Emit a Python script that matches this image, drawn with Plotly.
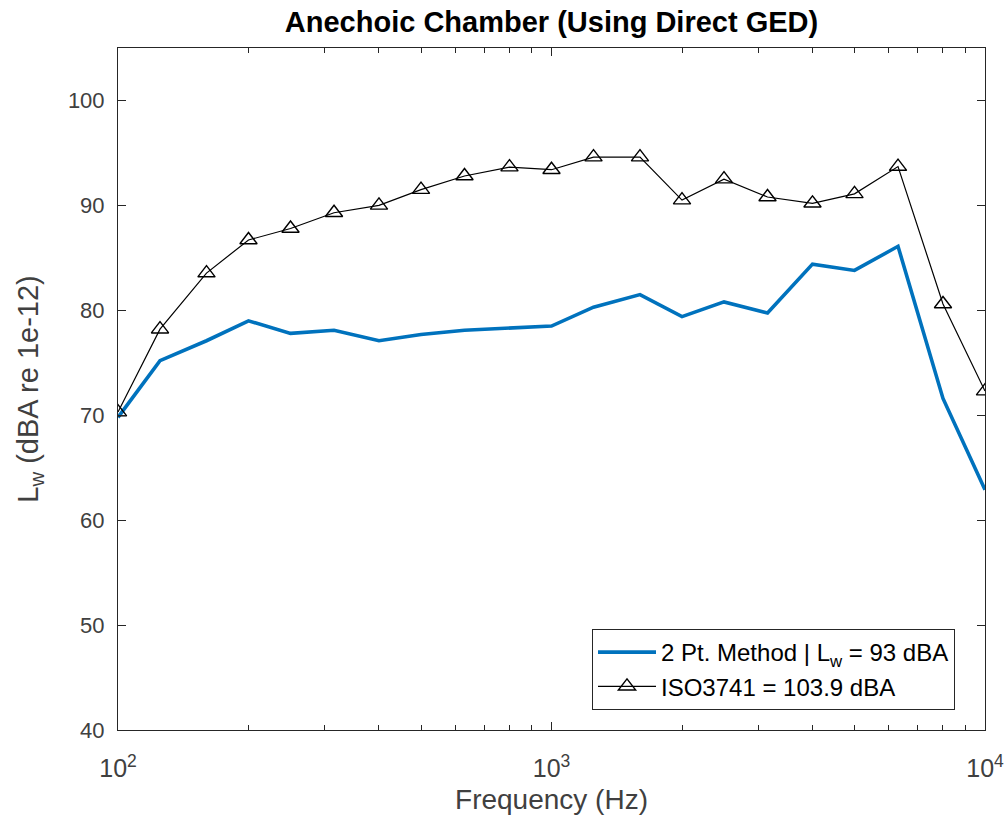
import plotly.graph_objects as go

# One-third octave band centre frequencies (Hz)
freq = [100, 125, 160, 200, 250, 315, 400, 500, 630, 800, 1000,
        1250, 1600, 2000, 2500, 3150, 4000, 5000, 6300, 8000, 10000]

# Sound power level per band, 2-point method (dBA)
lw_two_point = [69.8, 75.2, 77.1, 79.0, 77.8, 78.1, 77.1, 77.7, 78.1, 78.35, 78.5,
                80.3, 81.5, 79.4, 80.8, 79.75, 84.4, 83.8, 86.1, 71.6, 62.9]

# Sound power level per band, ISO 3741 (dBA)
lw_iso3741 = [70.3, 78.2, 83.55, 86.7, 87.8, 89.3, 90.0, 91.5, 92.8, 93.65, 93.4,
              94.6, 94.6, 90.5, 92.5, 90.8, 90.2, 91.1, 93.7, 80.6, 72.3]

y_ticks = [40, 50, 60, 70, 80, 90, 100]
x_ticks = [100, 1000, 10000]
x_tick_text = ["10<sup>2</sup>", "10<sup>3</sup>", "10<sup>4</sup>"]
x_minor = [200, 300, 400, 500, 600, 700, 800, 900,
           2000, 3000, 4000, 5000, 6000, 7000, 8000, 9000]

FONT = "Liberation Sans, Arial, Helvetica, sans-serif"
TICK_COLOR = "#404040"

fig = go.Figure()

fig.add_trace(go.Scatter(
    x=freq, y=lw_two_point, mode="lines",
    name="2 Pt. Method | L<sub>w</sub> = 93 dBA",
    line=dict(color="#0072BD", width=3.6),
))

fig.add_trace(go.Scatter(
    x=freq, y=lw_iso3741, mode="lines+markers",
    name="ISO3741 = 103.9 dBA",
    line=dict(color="black", width=1.2),
    marker=dict(symbol="triangle-up-open", size=15, color="black",
                line=dict(width=1.4, color="black")),
))

axis_common = dict(
    showgrid=False, zeroline=False, showline=True, linecolor="#262626",
    linewidth=1, mirror="allticks", ticks="inside", tickcolor="#262626",
    ticklen=8, automargin=False,
)

fig.update_layout(
    width=1006, height=824,
    margin=dict(l=118, r=21, t=48, b=94),
    paper_bgcolor="white", plot_bgcolor="white",
    title=dict(text="<b>Anechoic Chamber (Using Direct GED)</b>",
               x=(118 + 985) / 2 / 1006, xanchor="center",
               y=1 - 22 / 824, yanchor="middle",
               font=dict(family=FONT, size=29, color="black")),
    xaxis=dict(
        type="log", range=[2, 4],
        tickvals=x_ticks, ticktext=x_tick_text,
        tickfont=dict(family=FONT, size=25, color=TICK_COLOR),
        ticklabelstandoff=16,
        minor=dict(ticks="inside", ticklen=5, tickcolor="#262626",
                   tickvals=x_minor, showgrid=False),
        title=dict(text="Frequency (Hz)",
                   font=dict(family=FONT, size=28, color=TICK_COLOR),
                   standoff=8),
        **axis_common,
    ),
    yaxis=dict(
        range=[40, 105], tickvals=y_ticks,
        tickfont=dict(family=FONT, size=22, color=TICK_COLOR),
        ticklabelstandoff=8,
        title=dict(text="L<sub>w</sub> (dBA re 1e-12)",
                   font=dict(family=FONT, size=29, color=TICK_COLOR),
                   standoff=20),
        **axis_common,
    ),
    legend=dict(
        x=(955 - 118) / 867, xanchor="right",
        y=(730 - 710) / 682, yanchor="bottom",
        bgcolor="white", bordercolor="#262626", borderwidth=1,
        font=dict(family=FONT, size=24, color="black"),
        itemwidth=58, tracegroupgap=0,
    ),
    showlegend=True,
)

fig.write_html("out.html")
